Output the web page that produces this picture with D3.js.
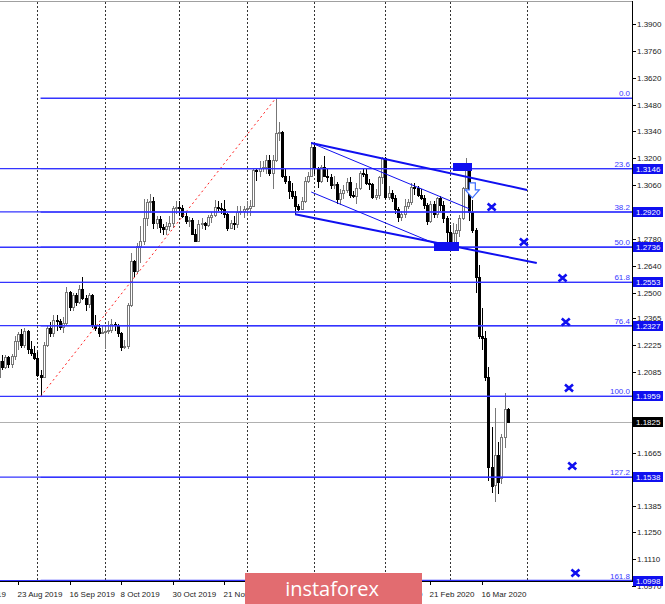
<!DOCTYPE html>
<html lang="en">
<head>
<meta charset="UTF-8">
<title>GBP/USD Daily</title>
<script src="https://d3js.org/d3.v7.min.js"></script>
<style>
  body { margin: 0; background: #fff; }
  svg { display: block; font-family: "Liberation Sans", Arial, sans-serif; }
</style>
</head>
<body>
<script>
// calendar of daily bars (broker has no bars on 25 Dec and 1 Jan)
const calStart = "2019-08-01", calEnd = "2020-03-26";
const holidays = ["2019-12-25", "2020-01-01"];
const firstBar = "2019-08-15";

// OHLC, one line per month (Aug 15 .. Mar 26)
const opens = [
  1.2060,1.2145,1.2110,1.2165,1.2125,1.2170,1.2245,1.2285,1.2225,1.2300,1.2205,1.2185,
  1.2160,1.2070,1.2060,1.2225,1.2315,1.2290,1.2355,1.2350,1.2320,1.2340,1.2505,1.2425,1.2485,1.2450,1.2520,1.2470,1.2440,1.2485,1.2330,1.2315,1.2290,
  1.2295,1.2300,1.2305,1.2335,1.2330,1.2290,1.2215,1.2220,1.2435,1.2665,1.2610,1.2745,1.2770,1.2890,1.2970,1.2975,1.2860,1.2885,1.2840,1.2830,1.2845,1.2860,1.2940,
  1.2945,1.2940,1.2900,1.2875,1.2880,1.2805,1.2770,1.2855,1.2860,1.2850,1.2895,1.2905,1.2945,1.2940,1.2935,1.2910,1.2835,1.2860,1.2855,1.2920,1.2925,
  1.2935,1.2940,1.2950,1.3140,1.3135,1.3150,1.3155,1.3190,1.3125,1.3190,1.3330,1.3335,1.3110,1.3080,1.3030,1.3005,1.2950,1.2935,1.2975,1.3080,1.3110,
  1.3260,1.3150,1.3080,1.3155,1.3110,1.3100,1.3060,1.3065,1.2990,1.3020,1.3035,1.3075,1.3010,1.3005,1.3045,1.3125,1.3120,1.3070,1.3065,1.3000,1.3010,1.3100,
  1.3200,1.3000,1.3020,1.2995,1.2935,1.2895,1.2910,1.2950,1.2970,1.3050,1.3045,1.3010,1.2995,1.2955,1.2875,1.2960,1.2910,1.2995,1.2955,1.2890,
  1.2815,1.2760,1.2810,1.2825,1.2890,1.3045,1.3150,1.2920,1.2825,1.2580,1.2275,1.2265,1.2060,1.1590,1.1495,1.1655,1.1535,1.1745,1.1895
];
const highs = [
  1.2160,1.2175,1.2175,1.2170,1.2180,1.2275,1.2295,1.2310,1.2315,1.2305,1.2245,1.2220,
  1.2190,1.2095,1.2240,1.2325,1.2345,1.2385,1.2385,1.2360,1.2370,1.2530,1.2510,1.2495,1.2500,1.2540,1.2582,1.2485,1.2500,1.2490,1.2385,1.2335,1.2330,
  1.2320,1.2350,1.2360,1.2345,1.2335,1.2295,1.2250,1.2445,1.2705,1.2670,1.2760,1.2845,1.2990,1.2990,1.3013,1.3000,1.2900,1.2900,1.2855,1.2870,1.2900,1.2950,1.2975,
  1.2975,1.2955,1.2920,1.2895,1.2890,1.2830,1.2880,1.2890,1.2870,1.2905,1.2920,1.2985,1.2975,1.2965,1.2985,1.2915,1.2880,1.2900,1.2950,1.2950,1.2950,
  1.2975,1.2985,1.3145,1.3150,1.3185,1.3185,1.3215,1.3215,1.3215,1.3513,1.3390,1.3340,1.3145,1.3110,1.3070,1.3030,1.2960,1.3000,1.3100,1.3130,1.3285,
  1.3270,1.3155,1.3165,1.3210,1.3150,1.3120,1.3110,1.3075,1.3040,1.3060,1.3095,1.3100,1.3030,1.3070,1.3135,1.3150,1.3150,1.3090,1.3070,1.3040,1.3110,1.3205,
  1.3205,1.3055,1.3035,1.3010,1.2945,1.2925,1.2990,1.2990,1.3070,1.3070,1.3055,1.3040,1.3010,1.2965,1.2975,1.2975,1.3000,1.3005,1.2975,1.2900,
  1.2850,1.2860,1.2855,1.2905,1.3050,1.3200,1.3160,1.2985,1.2835,1.2645,1.2420,1.2300,1.2110,1.1800,1.1898,1.1720,1.1765,1.1976,1.1900
];
const lows = [
  1.2050,1.2095,1.2100,1.2105,1.2105,1.2150,1.2200,1.2210,1.2210,1.2180,1.2170,1.2150,
  1.2060,1.1959,1.2055,1.2215,1.2270,1.2270,1.2300,1.2305,1.2290,1.2330,1.2405,1.2405,1.2430,1.2440,1.2460,1.2405,1.2420,1.2315,1.2300,1.2270,1.2285,
  1.2205,1.2285,1.2290,1.2300,1.2270,1.2195,1.2205,1.2205,1.2425,1.2580,1.2600,1.2655,1.2750,1.2845,1.2915,1.2830,1.2830,1.2810,1.2800,1.2800,1.2820,1.2835,1.2910,
  1.2900,1.2890,1.2855,1.2840,1.2800,1.2765,1.2765,1.2830,1.2825,1.2840,1.2860,1.2895,1.2925,1.2910,1.2890,1.2820,1.2830,1.2825,1.2835,1.2905,1.2890,
  1.2900,1.2900,1.2945,1.3080,1.3100,1.3130,1.3120,1.3105,1.3040,1.3180,1.3290,1.3095,1.3065,1.2990,1.2990,1.2905,1.2925,1.2930,1.2965,1.3070,1.3105,
  1.3120,1.3045,1.3070,1.3100,1.3075,1.3040,1.3040,1.2960,1.2955,1.2990,1.3020,1.2995,1.2995,1.2960,1.3035,1.3100,1.3060,1.3035,1.2990,1.2980,1.2990,1.3065,
  1.2990,1.2980,1.2970,1.2910,1.2870,1.2875,1.2890,1.2935,1.2955,1.3010,1.3000,1.2985,1.2935,1.2850,1.2865,1.2890,1.2890,1.2925,1.2865,1.2725,
  1.2725,1.2735,1.2765,1.2790,1.2880,1.3040,1.2875,1.2810,1.2500,1.2260,1.2200,1.2040,1.1520,1.1455,1.1409,1.1450,1.1500,1.1690,1.1820
];
const closes = [
  1.2145,1.2110,1.2165,1.2125,1.2170,1.2245,1.2285,1.2225,1.2300,1.2205,1.2185,1.2160,
  1.2070,1.2060,1.2225,1.2315,1.2290,1.2355,1.2350,1.2320,1.2340,1.2505,1.2425,1.2485,1.2450,1.2520,1.2470,1.2440,1.2485,1.2330,1.2315,1.2290,1.2295,
  1.2300,1.2305,1.2335,1.2330,1.2290,1.2215,1.2220,1.2435,1.2665,1.2610,1.2745,1.2770,1.2890,1.2970,1.2975,1.2860,1.2885,1.2840,1.2830,1.2845,1.2860,1.2940,1.2945,
  1.2940,1.2900,1.2875,1.2880,1.2805,1.2770,1.2855,1.2860,1.2850,1.2895,1.2905,1.2945,1.2940,1.2935,1.2910,1.2835,1.2860,1.2855,1.2920,1.2925,1.2935,
  1.2940,1.2950,1.3140,1.3135,1.3150,1.3155,1.3190,1.3125,1.3190,1.3330,1.3335,1.3110,1.3080,1.3030,1.3005,1.2950,1.2935,1.2975,1.3080,1.3110,1.3260,
  1.3150,1.3080,1.3155,1.3110,1.3100,1.3060,1.3065,1.2990,1.3020,1.3035,1.3075,1.3010,1.3005,1.3045,1.3125,1.3120,1.3070,1.3065,1.3000,1.3010,1.3100,1.3200,
  1.3000,1.3020,1.2995,1.2935,1.2895,1.2910,1.2950,1.2970,1.3050,1.3045,1.3010,1.2995,1.2955,1.2875,1.2960,1.2910,1.2995,1.2955,1.2890,1.2815,
  1.2760,1.2810,1.2825,1.2890,1.3045,1.3150,1.2920,1.2825,1.2580,1.2275,1.2265,1.2060,1.1590,1.1490,1.1655,1.1510,1.1745,1.1895,1.1825
];

const priceTicks = [1.3900,1.3760,1.3620,1.3480,1.3340,1.3200,1.3060,1.2920,1.2780,1.2640,1.2500,
  1.2365,1.2225,1.2085,1.1945,1.1805,1.1665,1.1525,1.1385,1.1250,1.1110,1.0970];

// fibonacci grid: Sep 3 low -> Dec 13 high
const fibLow = 1.1959, fibHigh = 1.3513;
const fibFrom = "2019-09-03", fibTo = "2019-12-13";
const fibRatios = [0.0, 23.6, 38.2, 50.0, 61.8, 76.4, 100.0, 127.2, 161.8];
// horizontal lines with price tags
const levelPrices = [1.3146, 1.2920, 1.2736, 1.2553, 1.2327, 1.1959, 1.1538, 1.0998];
const lastPrice = 1.1825;

const gridDates = ["2019-09-02","2019-10-01","2019-11-01","2019-12-02","2020-01-02","2020-02-03","2020-03-02","2020-04-01"];

// hand drawn objects: [date, price]
const trendLines = [
  {a: ["2019-12-31", 1.3280], b: ["2020-04-01", 1.3035], w: 2},
  {a: ["2019-12-23", 1.2908], b: ["2020-04-04", 1.2654], w: 2},
  {a: ["2019-12-31", 1.3280], b: ["2020-03-10", 1.2937], w: 1},
  {a: ["2019-12-31", 1.3024], b: ["2020-02-24", 1.2758], w: 1}
];
const boxes = [
  {a: ["2020-03-03", 1.3177], b: ["2020-03-11", 1.3133]},
  {a: ["2020-02-24", 1.2762], b: ["2020-03-05", 1.2714]}
];
const arrowAt = ["2020-03-11", 1.3072];
const crossDates = ["2020-03-19","2020-03-31","2020-04-12","2020-04-13","2020-04-14","2020-04-15","2020-04-16"];
const crossPrices = [1.2946, 1.2763, 1.2576, 1.2346, 1.2002, 1.1596, 1.1038];

const W = 665, H = 604, plotRight = 632, plotTop = 2, plotBottom = 581;
const blue = "#1010f0", lineBlue = "#3434ff";
const logo = {x: 245, y: 573, w: 177, h: 31};

const fmt = d3.utcFormat("%Y-%m-%d");
const cal = d3.utcDays(new Date(calStart), d3.utcDay.offset(new Date(calEnd), 1))
  .filter(d => d.getUTCDay() % 6 !== 0 && !holidays.includes(fmt(d)));
const calIndex = new Map(cal.map((d, i) => [fmt(d), i]));
// bars beyond the last one are projected by calendar day, like the terminal does
function idx(s) {
  if (calIndex.has(s)) return calIndex.get(s);
  return cal.length - 1 + (new Date(s) - cal[cal.length - 1]) / 864e5;
}

const x = d3.scaleLinear().domain([idx("2019-08-23"), idx("2020-03-16")]).range([18, 482]);
const y = d3.scaleLinear().domain([1.0970, 1.3900]).range([586, 24]);
const X = s => x(idx(s));
const row = p => Math.round(y(p)) + 0.5;

const start = idx(firstBar);
const bars = opens.map((o, i) => ({i: start + i, o, h: highs[i], l: lows[i], c: closes[i]}));

const svg = d3.select("body").append("svg").attr("width", W).attr("height", H)
  .attr("shape-rendering", "crispEdges");

svg.append("clipPath").attr("id", "plot").append("rect")
  .attr("x", 0).attr("y", plotTop).attr("width", plotRight).attr("height", plotBottom - plotTop);
const g = svg.append("g").attr("clip-path", "url(#plot)");

// month grid
g.selectAll(".grid").data(gridDates).enter().append("line")
  .attr("x1", d => Math.round(X(d)) + 0.5).attr("x2", d => Math.round(X(d)) + 0.5)
  .attr("y1", plotTop).attr("y2", plotBottom)
  .attr("stroke", "#333").attr("stroke-dasharray", "2,2");

// current price
g.append("line").attr("x1", 0).attr("x2", plotRight)
  .attr("y1", row(lastPrice)).attr("y2", row(lastPrice))
  .attr("stroke", "#b0b0b0");

// candles
const cg = g.append("g");
bars.forEach(b => {
  const cx = Math.round(x(b.i));
  const up = b.c >= b.o;
  cg.append("line").attr("x1", cx + 0.5).attr("x2", cx + 0.5)
    .attr("y1", y(b.h)).attr("y2", y(b.l))
    .attr("stroke", up ? "#777" : "#000");
  const y0 = Math.round(y(Math.max(b.o, b.c))), y1 = Math.round(y(Math.min(b.o, b.c)));
  cg.append("rect").attr("x", cx - 0.5).attr("y", y0 + 0.5)
    .attr("width", 2).attr("height", Math.max(1, y1 - y0))
    .attr("fill", up ? "#fff" : "#000").attr("stroke", up ? "#777" : "#000");
});

// fibonacci diagonal
g.append("line")
  .attr("x1", X(fibFrom)).attr("y1", y(fibLow)).attr("x2", X(fibTo)).attr("y2", y(fibHigh))
  .attr("stroke", "#ff2020").attr("stroke-dasharray", "2,3")
  .attr("shape-rendering", "auto");

const fibPrice = r => fibHigh - r / 100 * (fibHigh - fibLow);
// level lines over the whole width, fib levels from the anchor bar
const lg = g.append("g").attr("shape-rendering", "auto").attr("stroke", lineBlue).attr("stroke-width", 1.3);
lg.selectAll(".lvl").data(levelPrices).enter().append("line")
  .attr("x1", 0).attr("x2", plotRight)
  .attr("y1", p => y(p)).attr("y2", p => y(p));
lg.selectAll(".fib").data(fibRatios).enter().append("line")
  .attr("x1", X(fibFrom)).attr("x2", plotRight)
  .attr("y1", r => y(fibPrice(r))).attr("y2", r => y(fibPrice(r)));
g.selectAll(".fibtxt").data(fibRatios).enter().append("text")
  .attr("x", plotRight - 2).attr("y", r => Math.round(y(fibPrice(r))) - 2)
  .attr("text-anchor", "end").attr("font-size", 8).attr("fill", "#3a3aff")
  .text(r => r.toFixed(1));

// channel
g.selectAll(".tl").data(trendLines).enter().append("line")
  .attr("x1", d => X(d.a[0])).attr("y1", d => y(d.a[1]))
  .attr("x2", d => X(d.b[0])).attr("y2", d => y(d.b[1]))
  .attr("stroke", blue).attr("stroke-width", d => d.w)
  .attr("shape-rendering", "auto");

g.selectAll(".box").data(boxes).enter().append("rect")
  .attr("x", d => X(d.a[0])).attr("y", d => y(d.a[1]))
  .attr("width", d => X(d.b[0]) - X(d.a[0])).attr("height", d => y(d.b[1]) - y(d.a[1]))
  .attr("fill", blue);

// hollow down arrow
const ax = X(arrowAt[0]), ay = y(arrowAt[1]);
g.append("path")
  .attr("d", `M${ax - 3},${ay} h6 v7 h4 l-7,8 l-7,-8 h4 z`)
  .attr("fill", "#fff").attr("stroke", "#3a6cff").attr("stroke-width", 1.2)
  .attr("shape-rendering", "auto");

// target crosses
crossDates.forEach((d, i) => {
  const px = X(d), py = y(crossPrices[i]);
  g.append("path").attr("d", `M${px - 4},${py - 3.5} L${px + 4},${py + 3.5} M${px - 4},${py + 3.5} L${px + 4},${py - 3.5}`)
    .attr("stroke", blue).attr("stroke-width", 2.6).attr("fill", "none")
    .attr("shape-rendering", "auto");
});

// frame
svg.append("line").attr("x1", 0).attr("x2", plotRight).attr("y1", 1.5).attr("y2", 1.5).attr("stroke", "#a0a0a0");
svg.append("line").attr("x1", plotRight + 0.5).attr("x2", plotRight + 0.5).attr("y1", 1).attr("y2", plotBottom + 1).attr("stroke", "#000");
svg.append("line").attr("x1", 0).attr("x2", plotRight + 1).attr("y1", plotBottom + 0.5).attr("y2", plotBottom + 0.5).attr("stroke", "#000");

// price axis; a tick label that sits entirely under a price tag is not drawn
const tagged = levelPrices.concat([lastPrice]);
const pa = svg.append("g");
priceTicks.forEach(p => {
  const py = row(p);
  pa.append("line").attr("x1", plotRight).attr("x2", plotRight + 4).attr("y1", py).attr("y2", py).attr("stroke", "#000");
  if (tagged.some(t => Math.abs(y(t) - y(p)) < 4)) return;
  pa.append("text").attr("x", plotRight + 5).attr("y", py).attr("dy", "0.35em")
    .attr("font-size", 8).attr("fill", "#222").text(p.toFixed(4));
});
const tag = (p, fill) => {
  const py = Math.round(y(p));
  pa.append("rect").attr("x", plotRight + 1).attr("y", py - 5).attr("width", 30).attr("height", 10).attr("fill", fill);
  pa.append("text").attr("x", plotRight + 4).attr("y", py).attr("dy", "0.35em")
    .attr("font-size", 8).attr("fill", "#fff").text(p.toFixed(4));
};
levelPrices.forEach(p => tag(p, blue));
tag(lastPrice, "#000");

// time axis: a label every 16 bars (labels fully under the watermark are hidden)
const ta = svg.append("g");
d3.range(0, idx("2020-03-16") + 1, 16).forEach(i => {
  const tx = Math.round(x(i)) + 0.5;
  ta.append("line").attr("x1", tx).attr("x2", tx).attr("y1", plotBottom).attr("y2", plotBottom + 4).attr("stroke", "#000");
  if (tx > logo.x && tx + 46 < logo.x + logo.w) return;
  ta.append("text").attr("x", tx - 1).attr("y", 597).attr("font-size", 8).attr("fill", "#222")
    .text(d3.utcFormat("%-d %b %Y")(cal[i]));
});

// watermark
svg.append("rect").attr("x", logo.x).attr("y", logo.y).attr("width", logo.w).attr("height", logo.h).attr("fill", "#e26c70");
svg.append("text").attr("x", 332).attr("y", 596).attr("text-anchor", "middle")
  .attr("font-family", "Open Sans").attr("font-size", 20).attr("fill", "#fff").text("instaforex");
</script>
</body>
</html>
